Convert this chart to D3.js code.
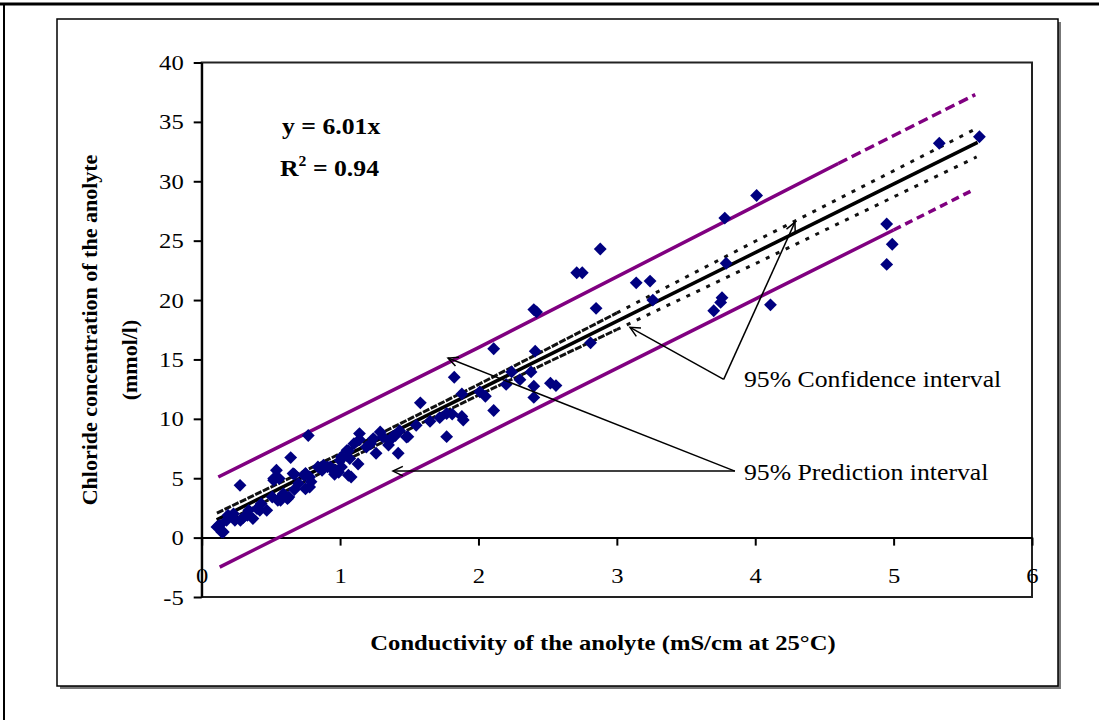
<!DOCTYPE html>
<html>
<head>
<meta charset="utf-8">
<script src="https://cdn.jsdelivr.net/npm/d3@7"></script>
<style>
  body { margin: 0; background: #fff; }
  svg { display: block; font-family: "Liberation Serif", "Times New Roman", serif; }
</style>
</head>
<body>
<svg id="chart" width="1099" height="720"></svg>
<script>
// measured points: conductivity (mS/cm) vs chloride (mmol/l)
const condX = [5.62, 5.33, 4.01, 3.78, 4.95, 4.99, 4.95, 3.79, 3.76, 3.75, 3.70, 4.11,
  2.88, 2.71, 2.75, 3.14, 3.24, 2.42, 2.40, 2.85, 3.26, 2.11, 2.41, 2.81,
  1.825, 1.88, 2.24, 2.38, 2.40, 2.52, 2.56, 2.40, 1.81, 1.89, 2.11, 1.77, 1.88, 2.01,
  1.58, 1.29, 1.14, 1.38, 1.42, 1.26, 1.49, 1.43, 1.06, 1.01, 1.13, 1.06, 0.96, 1.22, 1.35, 1.55, 1.77,
  1.14, 1.24, 1.19, 1.31, 1.36, 1.40, 1.48, 1.65, 1.72, 2.05, 2.20, 2.30,
  0.77, 0.643, 0.277, 0.54, 0.52, 0.67, 0.75, 0.78, 0.67, 1.05, 0.96, 1.01,
  0.12, 0.145, 0.19, 0.24, 0.30, 0.34, 0.40, 0.43, 0.47, 0.51, 0.55, 0.59, 0.63, 0.75, 0.79, 0.87, 0.91, 0.99, 1.07, 1.10,
  0.56, 0.52, 0.66, 0.74, 0.70, 0.62, 0.57, 0.42, 0.37, 0.33, 0.28, 0.23, 0.18, 0.13, 0.156, 0.11,
  1.0, 1.08, 0.95, 0.93, 0.88, 0.84, 0.78];
const chlorY = [33.75, 33.2, 28.8, 26.9, 26.4, 24.7, 23.0, 23.1, 20.2, 19.8, 19.1, 19.6,
  24.3, 22.3, 22.3, 21.45, 21.6, 19.0, 19.2, 19.3, 20.0, 15.9, 15.7, 16.4,
  13.5, 12.1, 13.95, 13.95, 12.75, 13.0, 12.8, 11.8, 10.4, 9.9, 10.7, 8.5, 10.2, 12.27,
  11.35, 8.9, 8.25, 8.5, 7.1, 7.1, 8.5, 9.0, 7.3, 6.8, 6.2, 5.25, 5.7, 7.9, 7.8, 9.45, 10.45,
  8.76, 8.34, 7.63, 8.47, 8.2, 8.6, 8.47, 9.8, 10.1, 11.9, 12.9, 13.3,
  8.6, 6.74, 4.4, 5.67, 4.97, 5.33, 5.4, 4.26, 4.04, 7.35, 5.33, 5.95,
  0.95, 0.47, 1.88, 1.46, 1.68, 2.3, 2.44, 2.86, 2.3, 3.42, 3.14, 3.7, 3.42, 4.1, 4.7, 5.67, 5.95, 5.5, 6.65, 7.9,
  4.97, 4.83, 5.39, 5.25, 4.55, 3.28, 3.14, 2.3, 1.6, 1.88, 1.46, 2.0, 1.46, 1.04, 0.47, 0.9,
  6.5, 5.1, 5.67, 5.95, 6.1, 5.95, 5.1];

// regression line as drawn
const fitX = [0.108, 5.607];
const fitY = [1.5, 33.28];

// 95% confidence band
const ciX = [0.11, 1, 2, 3, 4, 5, 5.6];
const ciUpper = [2.06, 7.06, 12.89, 18.92, 24.95, 30.88, 34.45];
const ciLower = [0.96, 6.26, 11.99, 17.52, 23.05, 28.68, 32.05];
const ciSparseFrom = 3;

// 95% prediction band
const predUpX = [0.12, 2.0, 4.6, 5.59];
const predUpper = [5.1, 16.0, 31.5, 37.3];
const predLoX = [0.13, 2.0, 5.0, 5.58];
const predLower = [-2.48, 8.42, 25.9, 29.3];
const predDashFrom = 2;

const xTicks = [0, 1, 2, 3, 4, 5, 6];
const yTicks = [-5, 0, 5, 10, 15, 20, 25, 30, 35, 40];

const stretch = 1.12; // glyphs in the picture are a bit wide

const svg = d3.select("#chart");

// page frame
svg.append("line").attr("x1", 0).attr("x2", 1099).attr("y1", 4).attr("y2", 4)
  .attr("stroke", "#000").attr("stroke-width", 3);
svg.append("line").attr("x1", 4).attr("x2", 4).attr("y1", 4).attr("y2", 720)
  .attr("stroke", "#000").attr("stroke-width", 2);

// chart area with shadow
svg.append("rect").attr("x", 60).attr("y", 22).attr("width", 1001).attr("height", 667)
  .attr("fill", "#777");
svg.append("rect").attr("x", 57).attr("y", 19).attr("width", 1001).attr("height", 667)
  .attr("fill", "#fff").attr("stroke", "#000").attr("stroke-width", 1.5);

const x = d3.scaleLinear().domain([0, 6]).range([201.7, 1032]);
const y = d3.scaleLinear().domain([-5, 40]).range([597, 62.5]);

// plot area border
svg.append("rect")
  .attr("x", x(0)).attr("y", y(40))
  .attr("width", x(6) - x(0)).attr("height", y(-5) - y(40))
  .attr("fill", "none").attr("stroke", "#222").attr("stroke-width", 2);

// axes
const yAxis = svg.append("g")
  .attr("transform", "translate(" + x(0) + ",0)")
  .call(d3.axisLeft(y).tickValues(yTicks).tickFormat(d => String(d))
    .tickSize(8).tickSizeOuter(0).tickPadding(10));
const xAxis = svg.append("g")
  .attr("transform", "translate(0," + y(0) + ")")
  .call(d3.axisBottom(x).tickValues(xTicks).tickFormat(d => String(d))
    .tickSize(8).tickSizeOuter(0).tickPadding(22));
[xAxis, yAxis].forEach(g => {
  g.selectAll("path, line").attr("stroke", "#000").attr("stroke-width", 2);
  g.selectAll("text")
    .attr("font-size", 22).attr("font-family", "Liberation Serif").attr("fill", "#000")
    .each(function () {
      const t = d3.select(this);
      const tx = +t.attr("x") || 0, ty = +t.attr("y") || 0;
      t.attr("x", 0).attr("y", 0)
        .attr("transform", "translate(" + tx + "," + ty + ") scale(" + stretch + ",1)");
    });
});

const line = d3.line().x(d => x(d[0])).y(d => y(d[1]));
const pairs = (xs, ys) => xs.map((v, i) => [v, ys[i]]);

// prediction band (purple), dashed toward the end
[[predUpX, predUpper, "10 5"], [predLoX, predLower, "8 5"]].forEach(([xs, ys, dash]) => {
  const pts = pairs(xs, ys);
  svg.append("path").attr("d", line(pts.slice(0, predDashFrom + 1)))
    .attr("fill", "none").attr("stroke", "#800080").attr("stroke-width", 3.5);
  svg.append("path").attr("d", line(pts.slice(predDashFrom)))
    .attr("fill", "none").attr("stroke", "#800080").attr("stroke-width", 3.5)
    .attr("stroke-dasharray", dash);
});

// confidence band (black, dotted)
[ciUpper, ciLower].forEach(ys => {
  const pts = pairs(ciX, ys);
  svg.append("path").attr("d", line(pts.slice(0, ciSparseFrom + 1)))
    .attr("fill", "none").attr("stroke", "#111").attr("stroke-width", 3)
    .attr("stroke-dasharray", "7 1.5");
  svg.append("path").attr("d", line(pts.slice(ciSparseFrom)))
    .attr("fill", "none").attr("stroke", "#111").attr("stroke-width", 3)
    .attr("stroke-dasharray", "4 7");
});

// regression line
svg.append("path").attr("d", line(pairs(fitX, fitY)))
  .attr("fill", "none").attr("stroke", "#000").attr("stroke-width", 3.5);

// data points
svg.selectAll(".pt")
  .data(pairs(condX, chlorY))
  .enter()
  .append("path")
  .attr("class", "pt")
  .attr("d", d3.symbol(d3.symbolDiamond2, 105))
  .attr("transform", d => "translate(" + x(d[0]) + "," + y(d[1]) + ")")
  .attr("fill", "#000080");

// horizontal text, widened like the picture
function label(px, py, size, bold) {
  return svg.append("text")
    .attr("transform", "translate(" + px + "," + py + ") scale(" + stretch + ",1)")
    .attr("font-size", size).attr("font-weight", bold ? "bold" : "normal");
}

// equation
label(282, 134, 23, true).text("y = 6.01x");
const r2 = label(280, 176, 23, true);
r2.append("tspan").text("R");
r2.append("tspan").attr("font-size", 14).attr("dy", -10).text("2");
r2.append("tspan").attr("dy", 10).text(" = 0.94");

// annotation arrows (data coordinates)
function arrow(from, to) {
  const x1 = x(from[0]), y1 = y(from[1]), x2 = x(to[0]), y2 = y(to[1]);
  svg.append("line").attr("x1", x1).attr("y1", y1).attr("x2", x2).attr("y2", y2)
    .attr("stroke", "#000").attr("stroke-width", 1.5);
  const a = Math.atan2(y1 - y2, x1 - x2), len = 11, spread = 0.45;
  svg.append("path")
    .attr("d", "M" + (x2 + len * Math.cos(a + spread)) + "," + (y2 + len * Math.sin(a + spread)) +
      "L" + x2 + "," + y2 +
      "L" + (x2 + len * Math.cos(a - spread)) + "," + (y2 + len * Math.sin(a - spread)))
    .attr("fill", "none").attr("stroke", "#000").attr("stroke-width", 1.5);
}
const ciVertex = [3.772, 13.32];
arrow(ciVertex, [3.095, 17.70]);
arrow(ciVertex, [4.287, 26.56]);
const piVertex = [3.853, 5.6];
arrow(piVertex, [1.382, 5.6]);
arrow(piVertex, [1.78, 15.12]);

label(x(3.918), y(12.7), 23, false).text("95% Confidence interval");
label(x(3.918), y(4.82), 23, false).text("95% Prediction interval");

// axis titles
svg.append("text")
  .attr("transform", "translate(97,330) rotate(-90)")
  .attr("text-anchor", "middle").attr("font-size", 22).attr("font-weight", "bold")
  .text("Chloride concentration of the anolyte");
svg.append("text")
  .attr("transform", "translate(137,360) rotate(-90)")
  .attr("text-anchor", "middle").attr("font-size", 22).attr("font-weight", "bold")
  .text("(mmol/l)");
label(603, 650, 22, true).attr("text-anchor", "middle")
  .text("Conductivity of the anolyte (mS/cm at 25°C)");
</script>
</body>
</html>
